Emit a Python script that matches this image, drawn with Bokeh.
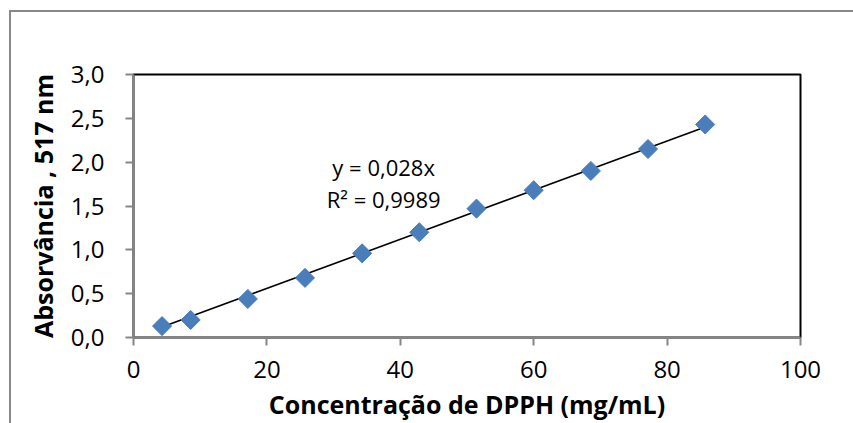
from bokeh.plotting import figure
from bokeh.models import ColumnDataSource, FixedTicker, Range1d
from bokeh.core.properties import value
from bokeh.embed import file_html
from bokeh.resources import INLINE

# DPPH calibration data
concentration = [4.28, 8.57, 17.14, 25.71, 34.28, 42.85, 51.42, 60.0, 68.57, 77.14, 85.71]
absorbance = [0.13, 0.20, 0.44, 0.68, 0.96, 1.20, 1.47, 1.68, 1.90, 2.15, 2.43]

# Linear fit through the origin
slope = 0.028
r_squared = 0.9989
fit_labels = ["y = 0,028x", "R² = 0,9989"]

x_ticks = [0, 20, 40, 60, 80, 100]
y_ticks = [0.0, 0.5, 1.0, 1.5, 2.0, 2.5, 3.0]
y_tick_labels = ["0,0", "0,5", "1,0", "1,5", "2,0", "2,5", "3,0"]

x_title = "Concentração de DPPH (mg/mL)"
y_title = "Absorvância , 517 nm"

FONT = "Open Sans"
AXIS_GREY = "#868686"

p = figure(width=853, height=423, output_backend="svg", toolbar_location=None,
           x_range=Range1d(0, 100), y_range=Range1d(0, 3.0))
p.min_border_left = 133
p.min_border_right = 53
p.min_border_top = 74
p.min_border_bottom = 85

# transparent outer fill so the chart-area border drawn by CSS shows through
p.background_fill_color = "white"
p.border_fill_alpha = 0
p.styles = {
    "background": (
        "linear-gradient(#888888, #888888) 9px 10px / 2px 100% no-repeat, "
        "linear-gradient(#888888, #888888) 9px 10px / 100% 2px no-repeat, white"
    )
}
p.outline_line_color = "black"
p.outline_line_width = 2
p.xgrid.visible = False
p.ygrid.visible = False

# Axes
p.xaxis.ticker = FixedTicker(ticks=x_ticks)
p.yaxis.ticker = FixedTicker(ticks=y_ticks)
p.yaxis.major_label_overrides = {t: lab for t, lab in zip(y_ticks, y_tick_labels)}
for ax in (p.xaxis, p.yaxis):
    ax.axis_line_color = AXIS_GREY
    ax.axis_line_width = 2
    ax.major_tick_line_color = AXIS_GREY
    ax.major_tick_line_width = 2
    ax.major_tick_in = 0
    ax.major_tick_out = 8
    ax.minor_tick_line_color = None
    ax.major_label_text_font = FONT
    ax.major_label_text_font_size = "24px"
    ax.major_label_text_color = "black"
    ax.axis_label_text_font = FONT
    ax.axis_label_text_font_style = "bold"
    ax.axis_label_text_font_size = "25px"
    ax.axis_label_text_color = "black"

p.xaxis.axis_label = x_title
p.yaxis.axis_label = y_title
p.xaxis.major_label_standoff = 15
p.yaxis.major_label_standoff = 21
p.xaxis.axis_label_standoff = 6
p.yaxis.axis_label_standoff = 8

# Trend line from the fitted slope
fit_x = [min(concentration), max(concentration)]
fit_y = [slope * v for v in fit_x]
p.line(fit_x, fit_y, line_color="black", line_width=1.6)

# Measured points as diamonds
src = ColumnDataSource(dict(x=concentration, y=absorbance))
p.scatter("x", "y", source=src, marker="square", angle=0.785398, size=13.5,
          fill_color="#4A7EBB", line_color="#4A7EBB")

# Equation and R² label
p.text(x=[37.5, 37.5], y=[1.944, 1.58], text=fit_labels,
       text_font=value(FONT), text_font_size="22px", text_color="black",
       text_align="center", text_baseline="alphabetic")

open("out.html", "w").write(file_html(p, INLINE))
